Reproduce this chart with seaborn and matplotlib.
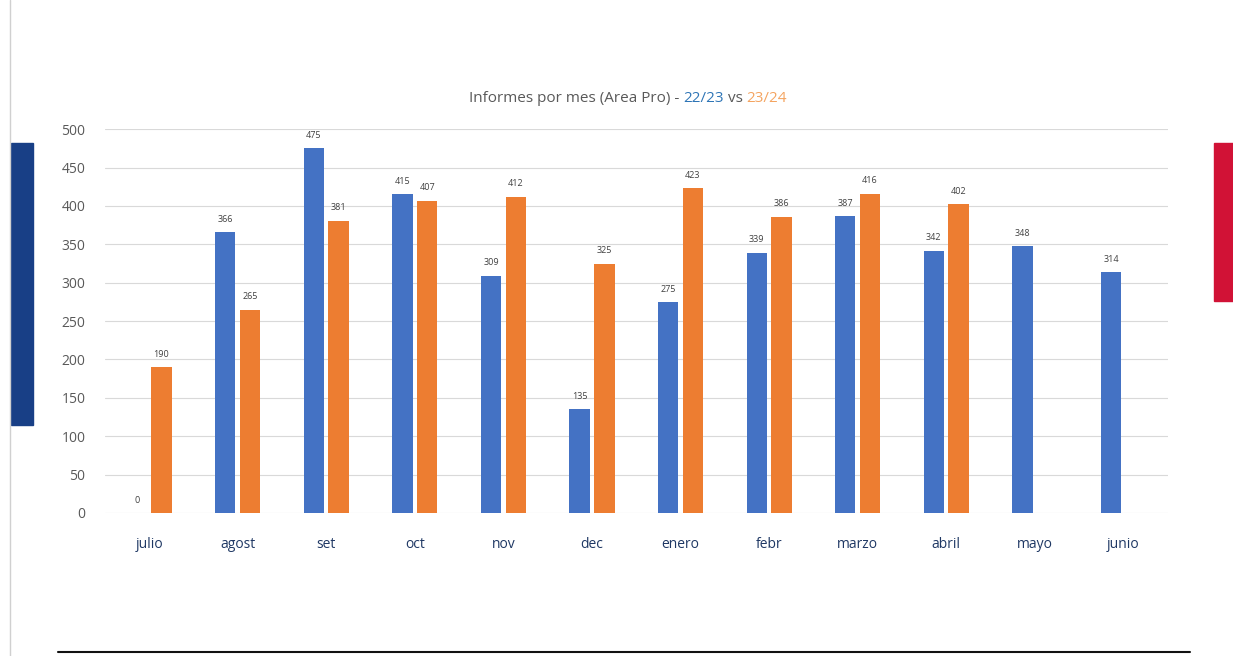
import numpy as np
import pandas as pd
import seaborn as sns
import matplotlib.pyplot as plt
from matplotlib.patches import Rectangle
from matplotlib.lines import Line2D


# Dades del gràfic
meses = ['julio', 'agost', 'set', 'oct', 'nov', 'dec', 'enero', 'febr', 'marzo', 'abril', 'mayo', 'junio']
temp_22_23 = [0, 366, 475, 415, 309, 135, 275, 339, 387, 342, 348, 314]
temp_23_24 = [190, 265, 381, 407, 412, 325, 423, 386, 416, 402, np.nan, np.nan]
temporadas = ['22/23', '23/24']

AZUL = '#4472C4'
NARANJA = '#ED7D31'


def build_df():
    rows = []
    for m, a, b in zip(meses, temp_22_23, temp_23_24):
        rows.append({'mes': m, 'temporada': temporadas[0], 'informes': a})
        rows.append({'mes': m, 'temporada': temporadas[1], 'informes': b})
    return pd.DataFrame(rows)


def main():
    df = build_df()

    sns.set_style('white')
    plt.rcParams['font.family'] = ['Open Sans', 'DejaVu Sans']

    fig = plt.figure(figsize=(12.33, 6.56), dpi=100)
    ax = fig.add_axes([0.085, 0.218, 0.862, 0.585])

    sns.barplot(data=df, x='mes', y='informes', hue='temporada', order=meses,
                hue_order=temporadas, palette=[AZUL, NARANJA],
                width=0.56, gap=0.18, legend=False, ax=ax, saturation=1,
                linewidth=0)

    for cont in ax.containers:
        ax.bar_label(cont, fmt='%g', padding=6, fontsize=6.5, color='#404040')

    ax.set_ylim(0, 500)
    ax.set_xlim(-0.5, len(meses) - 0.5)
    ax.set_yticks(range(0, 501, 50))
    ax.yaxis.grid(True, color='#D9D9D9', linewidth=0.8)
    ax.set_axisbelow(True)
    for s in ax.spines.values():
        s.set_visible(False)
    ax.set_xlabel('')
    ax.set_ylabel('')
    ax.tick_params(axis='y', length=0, labelsize=10, labelcolor='#595959', pad=14)
    ax.tick_params(axis='x', length=0, labelsize=10, labelcolor='#1F3864', pad=17)

    # Títol de colors
    parts = [('Informes por mes (Area Pro) - ', '#595959'), ('22/23', '#2E75B6'),
             (' vs ', '#595959'), ('23/24', '#F4A460')]
    fig.canvas.draw()
    r = fig.canvas.get_renderer()
    texts = []
    total = 0
    for s, c in parts:
        t = fig.text(0, 1 - 98 / 656, s, color=c, fontsize=11, va='center', ha='left')
        w = t.get_window_extent(r).width
        texts.append((t, w))
        total += w
    x0 = 628 - total / 2
    for t, w in texts:
        t.set_x(x0 / 1233)
        x0 += w

    # Decoració de la diapositiva
    fig.add_artist(Line2D([10 / 1233, 10 / 1233], [0, 1], color='#D0D0D0', lw=1))
    fig.add_artist(Rectangle((11 / 1233, 1 - 425 / 656), 22 / 1233, 282 / 656,
                             color='#183F86', transform=fig.transFigure))
    fig.add_artist(Rectangle((1214 / 1233, 1 - 301 / 656), 19 / 1233, 158 / 656,
                             color='#D11236', transform=fig.transFigure))
    fig.add_artist(Line2D([58 / 1233, 1190 / 1233], [1 - 652 / 656] * 2, color='#111111', lw=1.5))

    fig.savefig('out.png', dpi=100)


if __name__ == "__main__":
    main()
